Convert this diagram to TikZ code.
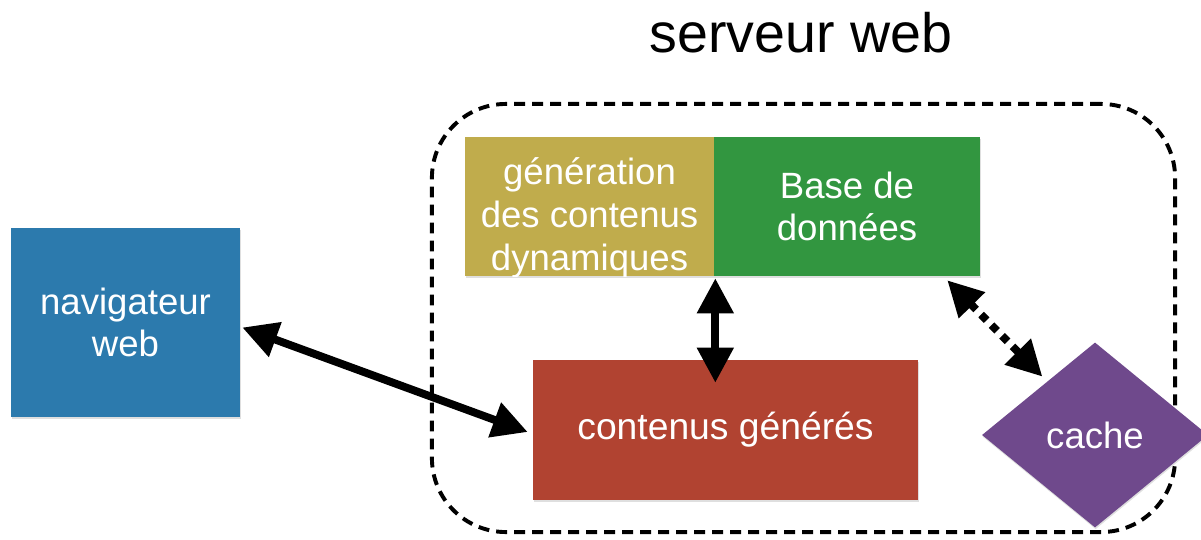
\documentclass[tikz,border=0pt]{standalone}
\usepackage{fontspec}
\setmainfont{Liberation Sans}
\usetikzlibrary{arrows.meta,shapes.geometric,calc,shadows}

\definecolor{navblue}{RGB}{44,122,173}
\definecolor{genolive}{RGB}{192,172,76}
\definecolor{dbgreen}{RGB}{50,150,64}
\definecolor{outred}{RGB}{177,67,49}
\definecolor{cachepurple}{RGB}{111,73,140}

\begin{document}
\begin{tikzpicture}[x=0.025cm,y=-0.025cm,
  softshadow/.style={drop shadow={opacity=0.25,shadow xshift=0.4pt,shadow yshift=-1.2pt}},
  box/.style={rectangle,inner sep=0pt,text=white,align=center,
    font=\fontsize{26}{30}\selectfont,softshadow},
  boxtext/.style={inner sep=0pt,text=white,align=center,
    font=\fontsize{26}{30.5}\selectfont},
  frame/.style={draw,dashed,line width=2.8pt,dash pattern=on 7.8pt off 5pt,
    rounded corners=1.85cm,minimum width=18.575cm,minimum height=10.7cm},
  biarrow/.style={line width=5.6pt,{Triangle[length=25pt,width=25pt]}-{Triangle[length=25pt,width=25pt]}},
  dotarrow/.style={biarrow,dash pattern=on 5.6pt off 5pt}
]
\useasboundingbox (0,0) rectangle (1201,539);
\clip (0,0) rectangle (1201,539);

% server boundary and its title
\node[frame] (srv) at (803.5,318) {};
\node[anchor=base,font=\fontsize{39.5}{45}\selectfont] (title) at (801,52) {serveur web};

% browser
\node[box,fill=navblue,minimum width=5.725cm,minimum height=4.725cm] (nav)
  at (125.5,322.5) {navigateur\\web};

% dynamic content generator, its text is cut off by the box edge
\node[box,fill=genolive,minimum width=6.225cm,minimum height=3.475cm] (gen)
  at (589.5,206.5) {};
\begin{scope}
  \clip (gen.south west) rectangle (gen.north east);
  \node[boxtext] (gentext) at (589.5,218) {génération\\des contenus\\dynamiques};
\end{scope}

% database
\node[box,fill=dbgreen,minimum width=6.65cm,minimum height=3.475cm] (db)
  at (847,206.5) {Base de\\données};

% generated content
\node[box,fill=outred,minimum width=9.625cm,minimum height=3.5cm] (out)
  at (725.5,430) {\fontsize{26.5}{30}\selectfont contenus générés};

% cache
\node[diamond,aspect=1.22,inner sep=0pt,fill=cachepurple,text=white,
  font=\fontsize{26}{30}\selectfont,softshadow,
  minimum width=5.65cm,minimum height=4.625cm] (cache) at (1095,435) {cache};

% connectors
\draw[biarrow] ($(nav.east)+(2,5)$) -- ($(out.west)+(-5,2)$);
\coordinate (midbot) at ($(gen.south east |- out.north)+(1,23)$);
\draw[biarrow] ($(gen.south east)+(1,2)$) -- (midbot);
\draw[dotarrow] ($(db.south east)+(-33,4)$) -- ($(cache.north west)+(4,-12)$);
\end{tikzpicture}
\end{document}
